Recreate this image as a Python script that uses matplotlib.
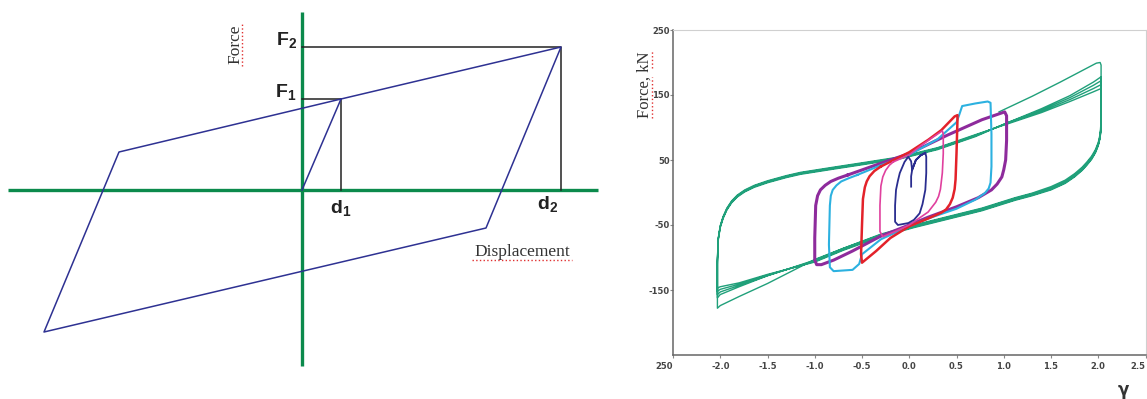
import matplotlib
matplotlib.use("Agg")
import matplotlib.pyplot as plt

plt.rcParams['mathtext.fontset'] = 'custom'
plt.rcParams['mathtext.bf'] = 'Liberation Sans:bold'
plt.rcParams['mathtext.rm'] = 'Liberation Sans'

# ---------------- Left panel: bilinear hysteresis schematic ----------------
schem_disp = [0.0, 3.9, 25.9, 18.4, -25.8, -18.3, 3.9]
schem_force = [0.0, 9.1, 14.3, -3.8, -14.2, 3.8, 9.1]
d1, d2 = 3.9, 25.9
F1, F2 = 9.1, 14.3
axis_x_range = [-29.4, 29.6]
axis_y_range = [-17.6, 17.8]

# ---------------- Right panel: test hysteresis loops ----------------
# green cycles (gamma = +-2.0)
green_first_x = [0.95, 1.3, 1.6, 1.9, 1.98, 2.02, 2.03]
green_first_y = [124, 148, 170, 193, 199, 200, 196]
green_dn_x = [2.03, 2.03, 2.02, 2.0, 1.97, 1.93, 1.88, 1.83, 1.75, 1.65, 1.5, 1.3, 1.12,
              0.77, 0.41, 0.05, -0.3, -0.7, -1.0, -1.5, -1.8, -2.0, -2.03]
green_dn_y1 = [196, 110, 90, 77, 66, 56, 47, 39, 29, 19, 9, -1, -8,
               -24, -37, -50, -64, -86, -103, -140, -160, -174, -178]
green_dn_y2 = [178, 104, 87, 75, 64, 54, 45, 37, 27, 17, 7, -2, -9,
               -25, -38, -51, -65, -86, -104, -128, -145, -157, -162]
green_dn_y3 = [172, 102, 86, 74, 63, 53, 44, 36, 26, 16, 6, -3, -10,
               -26, -39, -52, -66, -87, -105, -128, -143, -153, -157]
green_dn_y4 = [166, 101, 85, 73, 62, 52, 43, 35, 25, 15, 5, -4, -11,
               -27, -40, -53, -67, -88, -106, -127, -141, -149, -152]
green_dn_y5 = [160, 100, 84, 72, 61, 51, 42, 34, 24, 14, 4, -5, -12,
               -28, -41, -54, -68, -89, -107, -126, -139, -145, -147]
green_up_x = [-2.03, -2.03, -2.02, -2.0, -1.97, -1.93, -1.88, -1.82, -1.74, -1.64, -1.5, -1.3,
              -1.15, -0.8, -0.44, -0.09, 0.3, 0.7, 1.05, 1.4, 1.7, 1.95, 2.03]
green_up_y2 = [-178, -110, -72, -54, -40, -27, -16, -7, 1, 8, 15, 23,
               28, 36, 44, 52, 66, 86, 108, 129, 149, 170, 178]
green_up_y3 = [-162, -106, -71, -53, -39, -26, -15, -6, 2, 9, 16, 24,
               29, 37, 45, 53, 67, 87, 108, 127, 146, 165, 172]
green_up_y4 = [-157, -103, -70, -52, -38, -25, -14, -5, 3, 10, 17, 25,
               30, 38, 46, 54, 68, 88, 107, 125, 143, 160, 166]
green_up_y5 = [-152, -100, -69, -51, -37, -24, -13, -4, 4, 11, 18, 26,
               31, 39, 47, 55, 69, 89, 106, 123, 140, 155, 160]

# purple loop (gamma = +-1.0)
purple_x = [-0.65, -0.3, 0.0, 0.4, 0.77, 0.95, 1.01, 1.03, 1.03, 1.02, 1.0, 0.98, 0.93, 0.87, 0.8,
            0.73, 0.5, 0.2, 0.0, -0.3, -0.6, -0.8, -0.93, -0.98, -1.0, -1.0, -0.99, -0.97, -0.94,
            -0.89, -0.83, -0.75, -0.65]
purple_y = [27, 45, 60, 88, 112, 121, 124, 118, 80, 50, 35, 24, 13, 4, -2,
            -8, -22, -38, -50, -67, -90, -104, -111, -111, -104, -70, -20, -5, 4,
            11, 17, 22, 27]
# cyan loop (gamma = +-0.85)
cyan_x = [-0.55, -0.3, 0.0, 0.3, 0.5, 0.53, 0.56, 0.7, 0.83, 0.86, 0.87, 0.87, 0.86, 0.84, 0.8,
          0.75, 0.7, 0.5, 0.2, 0.0, -0.3, -0.5, -0.53, -0.6, -0.8, -0.84, -0.85, -0.84, -0.83,
          -0.81, -0.77, -0.72, -0.64, -0.55]
cyan_y = [27, 42, 58, 82, 108, 120, 133, 137, 140, 138, 90, 40, 15, 6, -1,
          -6, -11, -25, -40, -52, -72, -95, -110, -119, -121, -115, -80, -20, -5,
          4, 11, 17, 22, 27]
# red loop (gamma = +-0.5)
red_x = [-0.3, 0.0, 0.2, 0.34, 0.48, 0.51, 0.51, 0.5, 0.49, 0.48, 0.46, 0.43, 0.39, 0.34, 0.2,
         0.0, -0.2, -0.35, -0.45, -0.5, -0.51, -0.5, -0.49, -0.47, -0.45, -0.42, -0.37, -0.3]
red_y = [40, 62, 81, 96, 117, 119, 110, 60, 20, 5, -8, -18, -26, -31, -40,
         -52, -70, -90, -102, -108, -95, -50, -10, 8, 17, 25, 33, 40]
# magenta loop (gamma = +-0.33)
pink_x = [-0.17, 0.0, 0.15, 0.3, 0.35, 0.36, 0.36, 0.35, 0.33, 0.31, 0.28, 0.2, 0.1, 0.0, -0.15,
          -0.28, -0.31, -0.31, -0.3, -0.28, -0.25, -0.21, -0.17]
pink_y = [47, 58, 75, 90, 95, 90, 60, 30, 5, -6, -15, -30, -40, -50, -60,
          -68, -60, -20, 10, 24, 34, 42, 47]
# navy loop (gamma = +-0.17), including initial loading
navy_x = [0.02, 0.02, 0.03, 0.07, 0.12, 0.17, 0.18, 0.18, 0.17, 0.14, 0.11, 0.05, -0.01, -0.12,
          -0.15, -0.15, -0.14, -0.12, -0.1, -0.05, -0.01, 0.02, 0.03, 0.07, 0.12, 0.17]
navy_y = [9, 25, 34, 50, 57, 61, 55, 30, 4, -18, -32, -42, -47, -50,
          -45, -20, 4, 18, 30, 47, 55, 48, 35, 50, 57, 61]

x_ticks = [-2.5, -2.0, -1.5, -1.0, -0.5, 0.0, 0.5, 1.0, 1.5, 2.0, 2.5]
x_ticklabels = ['250', '-2.0', '-1.5', '-1.0', '-0.5', '0.0', '0.5', '1.0', '1.5', '2.0', '2.5']
y_ticks = [250, 150, 50, -50, -150]
y_ticklabels = ['250', '150', '50', '-50', '-150']

W, H = 1147, 399
fig = plt.figure(figsize=(W / 100, H / 100), dpi=100)

# ---- left panel ----
axL = fig.add_axes([0, 0, 600 / W, 1])
axL.set_xlim(-30.2, 29.8)
axL.set_ylim(-20.9, 19.0)
axL.axis('off')
green = '#0b8a4c'
axL.plot(axis_x_range, [0, 0], color=green, lw=2.4, solid_capstyle='butt', zorder=1)
axL.plot([0, 0], axis_y_range, color=green, lw=2.4, solid_capstyle='butt', zorder=1)
axL.plot([0, d2, d2], [F2, F2, 0], color='#222222', lw=1.1, zorder=2)
axL.plot([0, d1, d1], [F1, F1, 0], color='#222222', lw=1.1, zorder=2)
axL.plot(schem_disp, schem_force, color='#2e3192', lw=1.1, zorder=3)

lab_kw = dict(fontsize=14, color='#222222', ha='center', va='center')
axL.text(-1.5, 15.0, r'$\mathbf{F_2}$', **lab_kw)
axL.text(-1.6, 9.8, r'$\mathbf{F_1}$', **lab_kw)
axL.text(d1, -1.8, r'$\mathbf{d_1}$', **lab_kw)
axL.text(24.6, -1.4, r'$\mathbf{d_2}$', **lab_kw)
axL.text(-6.7, 14.6, 'Force', family='Liberation Serif', fontsize=12.5, rotation=90,
         ha='center', va='center', color='#333333')
axL.plot([-6.0, -6.0], [12.4, 16.8], color='#e03030', lw=1.0, ls=':')
axL.text(22.0, -6.2, 'Displacement', family='Liberation Serif', fontsize=12.5,
         ha='center', va='center', color='#333333')
axL.plot([17.0, 27.0], [-7.0, -7.0], color='#e03030', lw=1.0, ls=':')

# ---- right panel ----
axR = fig.add_axes([673 / W, 44 / H, 472.5 / W, 325 / H])
axR.set_xlim(-2.5, 2.5)
axR.set_ylim(-250, 250)

gcol = '#20a07a'
gx = (green_first_x + green_dn_x + green_up_x + green_dn_x + green_up_x + green_dn_x
      + green_up_x + green_dn_x + green_up_x + green_dn_x)
gy = (green_first_y + green_dn_y1 + green_up_y2 + green_dn_y2 + green_up_y3 + green_dn_y3
      + green_up_y4 + green_dn_y4 + green_up_y5 + green_dn_y5)
axR.plot(gx, gy, color=gcol, lw=1.0, zorder=2)
axR.plot(purple_x, purple_y, color='#8e2b9c', lw=2.2, zorder=3)
axR.plot(cyan_x, cyan_y, color='#2cb1e0', lw=1.5, zorder=4)
axR.plot(red_x, red_y, color='#e3222a', lw=1.8, zorder=5)
axR.plot(pink_x, pink_y, color='#e0409e', lw=1.2, zorder=6)
axR.plot(navy_x, navy_y, color='#2a2d8f', lw=1.3, zorder=7)

for s in ['top', 'right']:
    axR.spines[s].set_color('#d0d0d0')
    axR.spines[s].set_linewidth(0.8)
for s in ['left', 'bottom']:
    axR.spines[s].set_color('#666666')
    axR.spines[s].set_linewidth(1.1)
axR.set_xticks(x_ticks)
axR.set_xticklabels(x_ticklabels)
axR.set_yticks(y_ticks)
axR.set_yticklabels(y_ticklabels)
axR.tick_params(length=2, width=0.8, color='#888888', labelsize=6, labelcolor='#444444')
axR.tick_params(axis='x', pad=3)
axR.tick_params(axis='y', pad=0.5)
for t in axR.get_xticklabels() + axR.get_yticklabels():
    t.set_fontweight('bold')
axR.get_xticklabels()[0].set_ha('right')
axR.get_xticklabels()[-1].set_ha('right')

fig.text(645 / W, 1 - 85 / H, 'Force, kN', family='Liberation Serif', fontsize=12,
         rotation=90, ha='center', va='center', color='#333333')
fig.add_artist(plt.Line2D([652 / W, 652 / W], [1 - 118 / H, 1 - 77 / H], color='#e03030', lw=1.0, ls=':'))
fig.add_artist(plt.Line2D([652 / W, 652 / W], [1 - 68 / H, 1 - 50 / H], color='#e03030', lw=1.0, ls=':'))
fig.text(1123 / W, 1 - 390 / H, 'γ', fontsize=12, fontweight='bold', ha='center', va='center',
         color='#333333')

fig.savefig('out.png', dpi=100)
